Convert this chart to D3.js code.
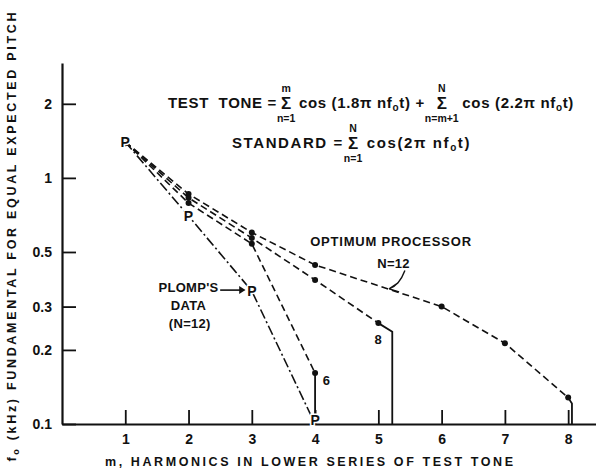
<!DOCTYPE html>
<meta charset="utf-8">
<script src="https://d3js.org/d3.v7.min.js"></script>
<style>
  body { margin: 0; background: #fff; }
  text { font-family: "Liberation Sans", Arial, sans-serif; font-weight: bold; fill: #111; }
</style>
<div id="chart"></div>

<script>
const W = 596, H = 469

// m = harmonics in lower series, f = fundamental (kHz)
const mUpper = [1, 2, 3, 4, 6, 7, 8]
const fUpper = [1.40, 0.86, 0.60, 0.443, 0.30, 0.213, 0.128]
const mMiddle = [1, 2, 3, 4, 5]
const fMiddle = [1.40, 0.83, 0.57, 0.385, 0.257]
const mLower = [1, 2, 3, 4]
const fLower = [1.40, 0.79, 0.54, 0.161]
const mPlomp = [1, 2, 3, 4]
const fPlomp = [1.40, 0.70, 0.347, 0.1]

// end of each curve, down to the axis
const dropUpper = [[8, 0.128], [8.06, 0.121], [8.06, 0.1]]
const dropMiddle = [[5, 0.257], [5.22, 0.237], [5.22, 0.1]]
const dropLower = [[4, 0.161], [4, 0.1]]

const xTicks = [1, 2, 3, 4, 5, 6, 7, 8]
const yTicks = [0.1, 0.2, 0.3, 0.5, 1, 2]
const yTickLabels = ["0.1", "0.2", "0.3", "0.5", "1", "2"]

const svg = d3.select("#chart")
    .append("svg")
    .attr("width", W)
    .attr("height", H)

const x = d3.scaleLinear()
    .domain([0, 8.44])
    .range([62, 596])

const y = d3.scaleLog()
    .domain([0.1, 2.93])
    .range([424, 63])

// axes, ticks pointing inward
const xAxis = svg.append("g")
    .attr("transform", `translate(0, ${y(0.1)})`)
    .call(d3.axisBottom(x).tickValues(xTicks).tickFormat(d3.format("d"))
        .tickSizeInner(-14).tickSizeOuter(0).tickPadding(10))
const yAxis = svg.append("g")
    .attr("transform", `translate(${x(0)}, 0)`)
    .call(d3.axisLeft(y).tickValues(yTicks).tickFormat((d, i) => yTickLabels[i])
        .tickSizeInner(-14).tickSizeOuter(0).tickPadding(10))

svg.selectAll(".domain").attr("stroke", "#111").attr("stroke-width", 2.2)
svg.selectAll(".tick line").attr("stroke", "#111").attr("stroke-width", 1.8)
svg.selectAll(".tick text").attr("font-size", 14).attr("fill", "#111")
xAxis.attr("font-family", null)
yAxis.attr("font-family", null)

// axis titles
const yt = svg.append("text")
    .attr("transform", `translate(16, ${237}) rotate(-90)`)
    .attr("text-anchor", "middle")
    .attr("font-size", 12.5)
    .attr("textLength", 449)
    .attr("lengthAdjust", "spacing")
yt.append("tspan").text("f")
yt.append("tspan").attr("font-size", 9).attr("dy", 3).text("o")
yt.append("tspan").attr("dy", -3).text(" (kHz) FUNDAMENTAL FOR EQUAL EXPECTED PITCH")

svg.append("text")
    .attr("x", 309)
    .attr("y", 466)
    .attr("text-anchor", "middle")
    .attr("font-size", 12.5)
    .attr("textLength", 408)
    .attr("lengthAdjust", "spacing")
    .text("m, HARMONICS IN LOWER SERIES OF TEST TONE")

const line = d3.line().x(d => x(d[0])).y(d => y(d[1]))
const zip = (ms, fs) => ms.map((m, i) => [m, fs[i]])

const curves = [
    {pts: zip(mUpper, fUpper), drop: dropUpper},
    {pts: zip(mMiddle, fMiddle), drop: dropMiddle},
    {pts: zip(mLower, fLower), drop: dropLower}
]

curves.forEach(c => {
    svg.append("path")
        .attr("d", line(c.pts))
        .attr("fill", "none")
        .attr("stroke", "#111")
        .attr("stroke-width", 1.6)
        .attr("stroke-dasharray", "7,4")
    svg.append("path")
        .attr("d", line(c.drop))
        .attr("fill", "none")
        .attr("stroke", "#111")
        .attr("stroke-width", 1.8)
    svg.append("g")
        .selectAll("circle")
        .data(c.pts.slice(1))
        .join("circle")
        .attr("cx", d => x(d[0]))
        .attr("cy", d => y(d[1]))
        .attr("r", 3)
        .attr("fill", "#111")
})

// Plomp's data, dash-dot
const plomp = zip(mPlomp, fPlomp)
svg.append("path")
    .attr("d", line(plomp))
    .attr("fill", "none")
    .attr("stroke", "#111")
    .attr("stroke-width", 1.6)
    .attr("stroke-dasharray", "10,3,2,3")

svg.append("circle")
    .attr("cx", x(1)).attr("cy", y(1.40))
    .attr("r", 4.2).attr("fill", "#111")

svg.append("g")
    .selectAll("text")
    .data(plomp)
    .join("text")
    .attr("x", d => x(d[0]))
    .attr("y", d => y(d[1] === 0.1 ? 0.104 : d[1]))
    .attr("dy", "0.36em")
    .attr("text-anchor", "middle")
    .attr("font-size", 14)
    .attr("stroke", "#fff")
    .attr("stroke-width", 3)
    .attr("paint-order", "stroke")
    .text("P")

// labels
const notes = [
    {t: "6", m: 4.18, f: 0.150},
    {t: "8", m: 5.0, f: 0.221},
    {t: "OPTIMUM PROCESSOR", m: 5.2, f: 0.555},
    {t: "N=12", m: 5.24, f: 0.451},
    {t: "PLOMP'S", m: 2.0, f: 0.36},
    {t: "DATA", m: 2.0, f: 0.304},
    {t: "(N=12)", m: 2.02, f: 0.257}
]
svg.append("g")
    .selectAll("text")
    .data(notes)
    .join("text")
    .attr("x", d => x(d.m))
    .attr("y", d => y(d.f))
    .attr("dy", "0.36em")
    .attr("text-anchor", "middle")
    .attr("font-size", 13)
    .attr("letter-spacing", d => d.t.length > 10 ? 0.8 : 0.3)
    .text(d => d.t)

// arrows
svg.append("path")
    .attr("d", `M${x(2.5)},${y(0.35)}H${x(2.88)}`)
    .attr("stroke", "#111").attr("stroke-width", 1.6)
svg.append("path")
    .attr("d", `M${x(2.8)},${y(0.35) - 4}L${x(2.9)},${y(0.35)}L${x(2.8)},${y(0.35) + 4}Z`)
    .attr("fill", "#111")

const tip = [x(5.17), y(0.354)]
svg.append("path")
    .attr("d", `M${x(5.42)},${y(0.42)}Q${tip[0] + 10},${tip[1] - 3} ${tip[0]},${tip[1]}` +
        `M${tip[0]},${tip[1]}l9,-6M${tip[0]},${tip[1]}l10,3`)
    .attr("fill", "none")
    .attr("stroke", "#111").attr("stroke-width", 1.4)

// formulas: laid out piece by piece, then spaced out to the wanted width
function formula(x0, x1, base, pieces) {
    let g, cx, n
    const draw = ls => {
        if (g) g.remove()
        g = svg.append("g")
        cx = x0
        n = 0
        pieces.forEach(p => {
            if (p.sigma) {
                const s = g.append("text").attr("y", base + 1)
                    .attr("font-size", 17).attr("font-weight", "normal").text("\u03a3")
                const sw = s.node().getComputedTextLength()
                const top = g.append("text").attr("y", base - 16).attr("font-size", 10.5)
                    .attr("text-anchor", "middle").text(p.top)
                const bot = g.append("text").attr("y", base + 14).attr("font-size", 10.5)
                    .attr("text-anchor", "middle").text(p.bot)
                const bw = Math.max(sw, bot.node().getComputedTextLength())
                s.attr("x", cx + (bw - sw) / 2)
                top.attr("x", cx + bw / 2)
                bot.attr("x", cx + bw / 2)
                cx += bw + 3 + ls
                n += 1
            } else if (p.sub) {
                const t = g.append("text").attr("x", cx).attr("y", base + 3)
                    .attr("font-size", 10).text(p.sub)
                cx += t.node().getComputedTextLength() + ls
                n += 1
            } else {
                const t = g.append("text").attr("x", cx).attr("y", base)
                    .attr("font-size", 15).attr("letter-spacing", ls)
                    .attr("xml:space", "preserve").text(p.t)
                cx += t.node().getComputedTextLength()
                n += p.t.length
            }
        })
    }
    draw(0)
    const ls = Math.max(0, (x1 - cx) / n)
    draw(ls)
}

formula(168, 574, 108, [
    {t: "TEST  TONE ="}, {sigma: true, top: "m", bot: "n=1"},
    {t: "cos (1.8\u03c0 nf"}, {sub: "o"}, {t: "t) +"},
    {sigma: true, top: "N", bot: "n=m+1"},
    {t: "cos (2.2\u03c0 nf"}, {sub: "o"}, {t: "t)"}
])
formula(232, 471, 148, [
    {t: "STANDARD ="}, {sigma: true, top: "N", bot: "n=1"},
    {t: "cos(2\u03c0 nf"}, {sub: "o"}, {t: "t)"}
])
</script>
